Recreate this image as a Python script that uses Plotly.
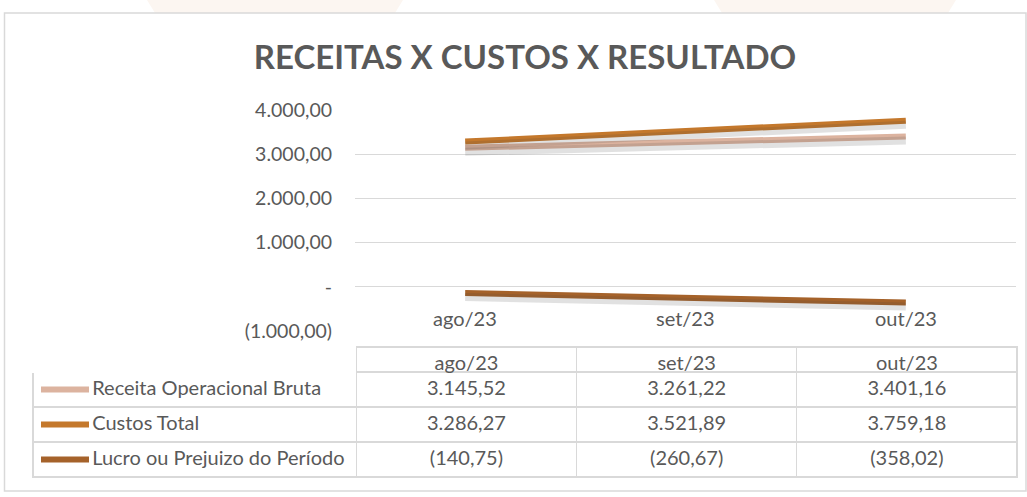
import plotly.graph_objects as go

# ---------------- data ----------------
months = ["ago/23", "set/23", "out/23"]
series_names = ["Receita Operacional Bruta", "Custos Total", "Lucro ou Prejuizo do Período"]
receita = [3145.52, 3261.22, 3401.16]
custos = [3286.27, 3521.89, 3759.18]
lucro = [-140.75, -260.67, -358.02]
colors = ["#DCB39F", "#C4782C", "#A5622A"]

y_tickvals = [4000, 3000, 2000, 1000, 0, -1000]
y_ticktext = ["4.000,00", "3.000,00", "2.000,00", "1.000,00", "-", "(1.000,00)"]

title_text = "RECEITAS X CUSTOS X RESULTADO"

# ---------------- helpers ----------------
W, H = 1027, 497
FONT = "Lato"
GREY_TXT = "#595959"
GRID = "#D9D9D9"


def px(x):
    return x / W


def py(y):
    return 1 - y / H


def fmt(v):
    s = f"{abs(v):,.2f}".replace(",", "X").replace(".", ",").replace("X", ".")
    return f"({s})" if v < 0 else s


all_series = [receita, custos, lucro]

fig = go.Figure()

# soft shadow (offset copy on an overlay axis)
for vals in all_series:
    fig.add_trace(go.Scatter(x=months, y=vals, mode="lines", xaxis="x", yaxis="y2",
                             line=dict(color="rgba(70,70,70,0.16)", width=8),
                             hoverinfo="skip", showlegend=False))

for name, vals, c in zip(series_names, all_series, colors):
    fig.add_trace(go.Scatter(x=months, y=vals, mode="lines", name=name,
                             line=dict(color=c, width=6), showlegend=False))

# data table
label_pad = "\u00a0" * 10
fig.add_trace(go.Table(
    domain=dict(x=[px(33), px(1017)], y=[py(478.5), py(347)]),
    columnwidth=[323, 220, 220, 220],
    header=dict(values=[""] + months,
                fill_color="white",
                line=dict(color=["white", GRID, GRID, GRID], width=1.2),
                font=dict(family=FONT, size=20, color=GREY_TXT),
                align="center", height=25),
    cells=dict(values=[[label_pad + n.replace(" ", "\u00a0") for n in series_names]]
               + [[fmt(s[i]) for s in all_series] for i in range(len(months))],
               fill_color="white",
               line=dict(color=GRID, width=1.2),
               font=dict(family=FONT, size=20, color=GREY_TXT),
               align=["left", "center", "center", "center"], height=35),
))

# x category labels placed on the value scale
for m in months:
    fig.add_annotation(x=m, y=-700, xref="x", yref="y", text=m, showarrow=False,
                       font=dict(family=FONT, size=20, color=GREY_TXT))

shapes = []
# faint background watermark at the top
for x0, x1 in [(147, 403), (714, 956)]:
    shapes.append(dict(type="path", xref="paper", yref="paper", layer="below",
                       path=f"M {px(x0)} 1 L {px(x1)} 1 L {px(x1 - 8)} {py(13)} L {px(x0 + 8)} {py(13)} Z",
                       fillcolor="#FCF6F1", line=dict(width=0)))
# outer border
shapes.append(dict(type="rect", xref="paper", yref="paper", x0=px(4.5), x1=px(1026),
                   y0=py(491), y1=py(13), line=dict(color=GRID, width=1.5)))
# legend keys in table
for i, c in enumerate(colors):
    yc = 372 + 35 * i + 17.5
    shapes.append(dict(type="line", xref="paper", yref="paper", x0=px(41), x1=px(89),
                       y0=py(yc), y1=py(yc), line=dict(color=c, width=6)))

shift = 4 / 44.2 * 1000

fig.update_layout(
    width=W, height=H,
    margin=dict(l=0, r=0, t=0, b=0),
    paper_bgcolor="white", plot_bgcolor="white",
    title=dict(text=title_text, x=px(525), y=py(57), xanchor="center", yanchor="middle",
               font=dict(family=FONT, size=33, color=GREY_TXT, weight="bold")),
    xaxis=dict(domain=[px(355), px(1016)], type="category", range=[-0.5, 2.5],
               showticklabels=False, showgrid=False, zeroline=False, fixedrange=True),
    yaxis=dict(domain=[py(331), py(110)], range=[-1000, 4000], tickvals=y_tickvals,
               ticktext=y_ticktext, showgrid=True, gridcolor=GRID, gridwidth=1,
               zeroline=False, ticks="", ticklabelstandoff=22, automargin=False,
               tickfont=dict(family=FONT, size=19.5, color=GREY_TXT)),
    yaxis2=dict(domain=[py(331), py(110)], range=[-1000 + shift, 4000 + shift],
                overlaying="y", visible=False),
    shapes=shapes,
    showlegend=False,
)

fig.write_html("out.html", config={"displayModeBar": False},
               post_script="document.body.style.margin='0';document.body.style.overflow='hidden';")
